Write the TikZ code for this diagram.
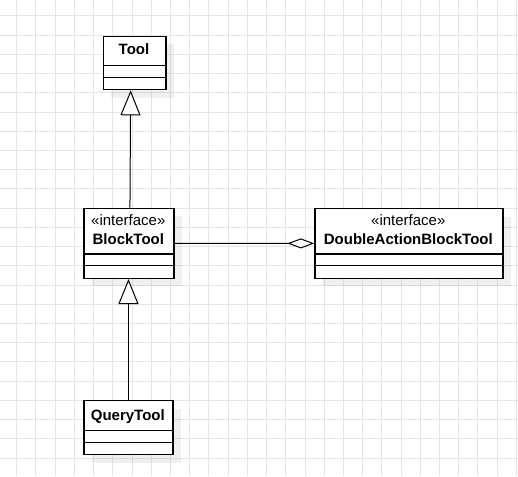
\documentclass[tikz,border=0pt]{standalone}
\usepackage{fontspec}
\setmainfont{Liberation Sans}
\usetikzlibrary{arrows.meta,calc}

\begin{document}
\begin{tikzpicture}[x=1pt,y=-1pt,
    gridline/.style={draw=gray!20, line width=1pt},
    umlbox/.style={draw, line width=1.3pt, fill=white, inner sep=0pt, anchor=north west},
    boxshadow/.style={fill=black, opacity=0.06},
    classname/.style={font=\fontsize{15}{18}\selectfont\bfseries, anchor=base, inner sep=0pt},
    stereo/.style={font=\fontsize{15}{18}\selectfont, anchor=base, inner sep=0pt},
    extends/.style={line width=1pt, -{Triangle[length=25pt,width=20pt,fill=white]}},
    aggregation/.style={line width=1pt, -{Diamond[length=27pt,width=10pt,fill=white]}}]
    \useasboundingbox[fill=white] (0,0) rectangle (518,476);
    % background grid
    \foreach \gx in {0,...,26}
      \draw[gridline] (16.7+19.22*\gx,0) -- (16.7+19.22*\gx,476);
    \foreach \gy in {0,...,23}
      \draw[gridline] (0,16+19.22*\gy) -- (518,16+19.22*\gy);

    % Tool
    \fill[boxshadow] (111.2,44.2) rectangle (173.8,97.5);
    \node[umlbox, minimum width=62.6pt, minimum height=53.3pt] (tool) at (102.7,35.7) {};
    \draw[line width=1.3pt] ($(tool.north west)+(0,30)$) -- ($(tool.north east)+(0,30)$);
    \draw[line width=1.3pt] ($(tool.north west)+(0,41.6)$) -- ($(tool.north east)+(0,41.6)$);
    \node[classname] (toolname) at (134,55) {Tool};

    % BlockTool
    \fill[boxshadow] (91.8,216.2) rectangle (181.8,286.2);
    \node[umlbox, minimum width=90pt, minimum height=70pt] (blocktool) at (83.3,207.7) {};
    \draw[line width=1.3pt] ($(blocktool.north west)+(0,46.3)$) -- ($(blocktool.north east)+(0,46.3)$);
    \draw[line width=1.3pt] ($(blocktool.north west)+(0,58)$) -- ($(blocktool.north east)+(0,58)$);
    \node[stereo] (blockstereo) at (128.3,225) {«interface»};
    \node[classname] (blockname) at (128.3,244.3) {BlockTool};

    % DoubleActionBlockTool
    \fill[boxshadow] (322.8,216.5) rectangle (510.8,286);
    \node[umlbox, minimum width=188pt, minimum height=69.5pt] (dablocktool) at (314.3,208) {};
    \draw[line width=1.3pt] ($(dablocktool.north west)+(0,46)$) -- ($(dablocktool.north east)+(0,46)$);
    \draw[line width=1.3pt] ($(dablocktool.north west)+(0,57.7)$) -- ($(dablocktool.north east)+(0,57.7)$);
    \node[stereo] (dastereo) at (408.3,225) {«interface»};
    \node[classname] (daname) at (408.3,244.3) {DoubleActionBlockTool};

    % QueryTool
    \fill[boxshadow] (91.8,408.5) rectangle (180.8,462.5);
    \node[umlbox, minimum width=89pt, minimum height=54pt] (querytool) at (83.3,400) {};
    \draw[line width=1.3pt] ($(querytool.north west)+(0,30.7)$) -- ($(querytool.north east)+(0,30.7)$);
    \draw[line width=1.3pt] ($(querytool.north west)+(0,42.3)$) -- ($(querytool.north east)+(0,42.3)$);
    \node[classname] (queryname) at (127.8,420.7) {QueryTool};

    % relations
    \draw[extends] ([xshift=1pt]blocktool.north) -- ([xshift=-4pt]tool.south);
    \draw[extends] (querytool.north) -- (querytool.north |- blocktool.south);
    \draw[aggregation] (blocktool.east) -- (dablocktool.west);
  \end{tikzpicture}
\end{document}
